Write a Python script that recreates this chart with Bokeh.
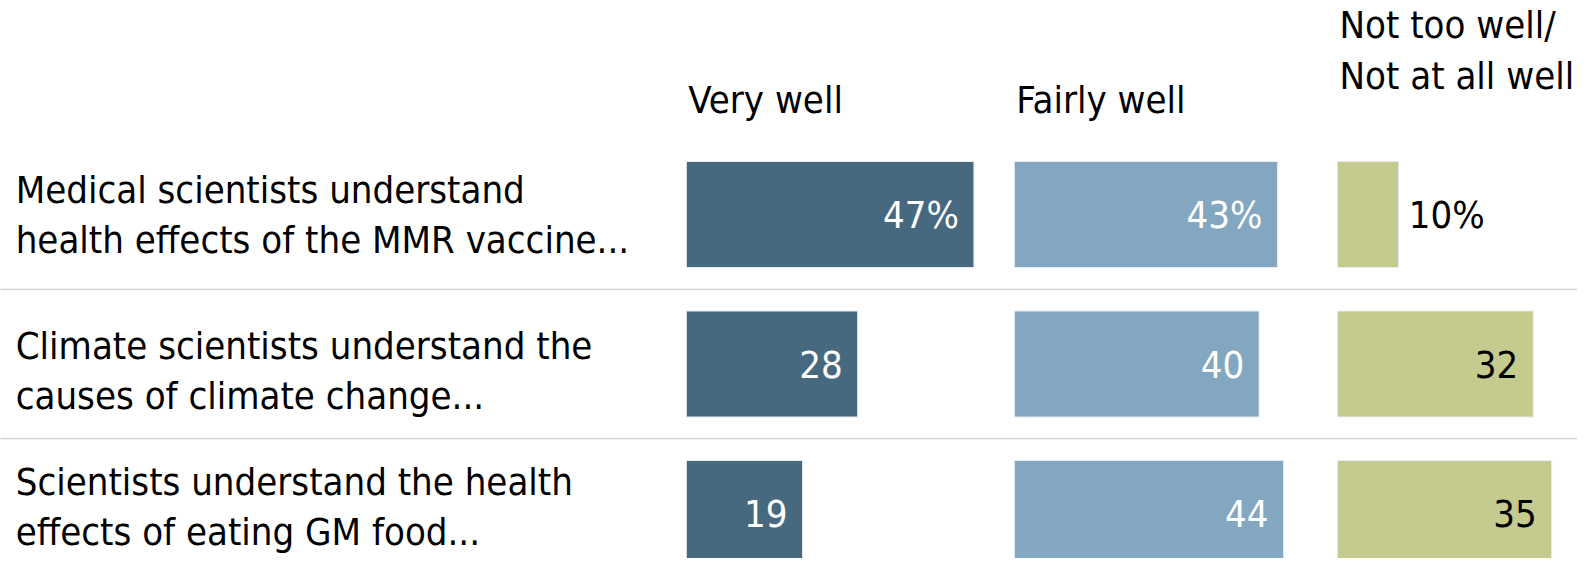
from bokeh.plotting import figure
from bokeh.models import Range1d, ColumnDataSource
from bokeh.core.properties import value
from bokeh.embed import file_html
from bokeh.resources import INLINE

# ---- data ----
categories = [
    "Medical scientists understand\nhealth effects of the MMR vaccine...",
    "Climate scientists understand the\ncauses of climate change...",
    "Scientists understand the health\neffects of eating GM food...",
]
series_names = ["Very well", "Fairly well", "Not too well/\nNot at all well"]
very_well = [47, 28, 19]
fairly_well = [43, 40, 44]
not_well = [10, 32, 35]
value_labels = [["47%", "43%", "10%"], ["28", "40", "32"], ["19", "44", "35"]]

# ---- style / layout ----
FONT = "DejaVu Sans Condensed"
FS = "38px"
colors = ["#46697f", "#84a7c1", "#c5cb8e"]
label_colors = ["white", "white", "black"]
offsets = [0, 53.6, 106.4]          # column start (in % units)
PX = 6.12                           # px per % unit
W, H = 1577, 558
ROW = 149.5                         # px per row
R0 = 214                            # first row centre (px from top)
label_shift = [0, 6.5, -6.5]        # px shift of category label blocks
x0 = -685.8 / PX
y_top = -R0 / ROW
y_bot = (H - R0) / ROW

p = figure(width=W, height=H, output_backend="svg", toolbar_location=None,
           x_range=Range1d(x0, x0 + W / PX), y_range=Range1d(y_bot, y_top),
           min_border=0, outline_line_color=None)
p.axis.visible = False
p.grid.visible = False
p.background_fill_color = "white"
p.border_fill_color = "white"

series = [very_well, fairly_well, not_well]
rows = list(range(len(categories)))
bar_h = 106 / ROW

for j, vals in enumerate(series):
    src = ColumnDataSource(dict(
        y=rows,
        left=[offsets[j]] * len(vals),
        right=[offsets[j] + v for v in vals],
    ))
    p.hbar(y="y", left="left", right="right", height=bar_h, source=src,
           fill_color=colors[j], line_color="#e8eef2", line_width=1)

    # value labels
    ins_x, ins_t, ins_y = [], [], []
    out_x, out_t, out_y = [], [], []
    for i, v in enumerate(vals):
        if v >= 15:
            ins_x.append(offsets[j] + v - 15 / PX)
            ins_t.append(value_labels[i][j])
            ins_y.append(i)
        else:
            out_x.append(offsets[j] + v + 10 / PX)
            out_t.append(value_labels[i][j])
            out_y.append(i)
    if ins_x:
        p.text(x=ins_x, y=ins_y, text=ins_t, text_align="right",
               text_baseline="middle", text_color=label_colors[j],
               text_font=value(FONT), text_font_size=FS)
    if out_x:
        p.text(x=out_x, y=out_y, text=out_t, text_align="left",
               text_baseline="middle", text_color="black",
               text_font=value(FONT), text_font_size=FS)

# header labels
for j, name in enumerate(series_names):
    lines = name.split("\n")
    if len(lines) == 1:
        ys = [(99 - R0) / ROW]
    else:
        ys = [(24 - R0) / ROW, (75 - R0) / ROW]
    p.text(x=[offsets[j] + 2 / PX] * len(lines), y=ys, text=lines,
           text_align="left", text_baseline="middle", text_color="black",
           text_font=value(FONT), text_font_size=FS)

# category labels
cx = x0 + 15.2 / PX
for i, cat in enumerate(categories):
    l1, l2 = cat.split("\n")
    yc = i + label_shift[i] / ROW
    p.text(x=[cx, cx], y=[yc - 25 / ROW, yc + 25 / ROW], text=[l1, l2],
           text_align="left", text_baseline="middle", text_color="black",
           text_font=value(FONT), text_font_size=FS)

# dotted separators
for i in rows[:-1]:
    p.line(x=[x0, x0 + W / PX], y=[i + 0.5, i + 0.5], line_color="#808080",
           line_width=1, line_dash="1 1")

open("out.html", "w").write(file_html(p, INLINE))
